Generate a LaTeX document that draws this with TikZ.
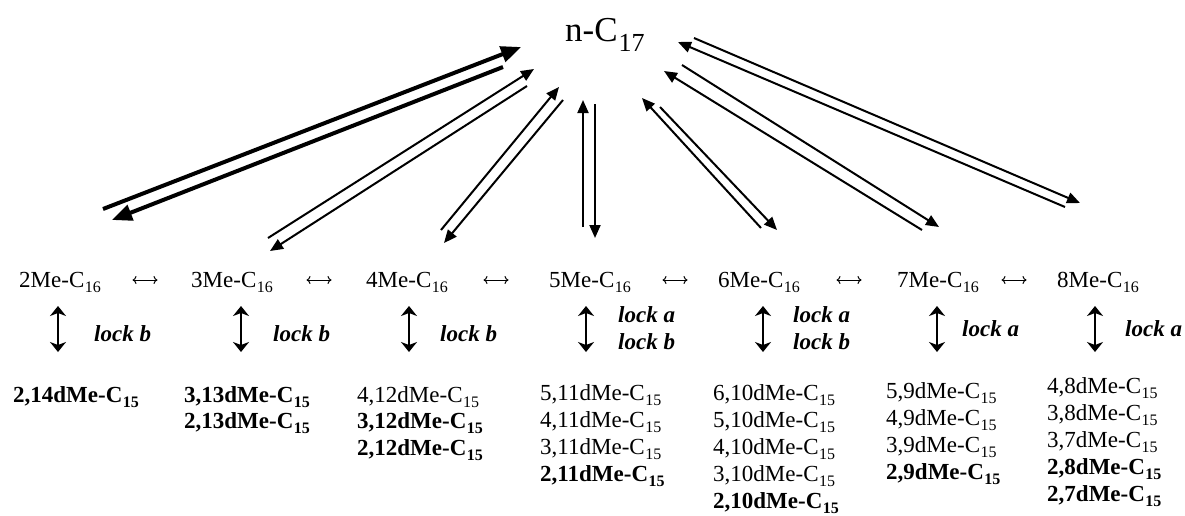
\documentclass[tikz,border=0pt]{standalone}
\usepackage{fontspec}
\setmainfont{Liberation Serif}
\usetikzlibrary{arrows.meta}
\newcommand{\mysub}[1]{\kern0.5pt\raisebox{-5pt}{\fontsize{16}{16}\selectfont #1}}
\tikzset{
  txt/.style={anchor=base west, inner sep=0pt, font=\fontsize{23}{27}\selectfont},
  lst/.style={txt},
  bl/.style={txt, font=\fontsize{23}{27}\selectfont\bfseries},
  lk/.style={txt, font=\fontsize{23}{27}\selectfont\bfseries\itshape},
  eqarrow/.style={line width=1pt, {To[length=4pt,width=8pt]}-{To[length=4pt,width=8pt]}},
  lockarrow/.style={line width=2.8pt, {Stealth[length=10pt,width=16pt,inset=3pt]}-{Stealth[length=10pt,width=16pt,inset=3pt]}},
  thin arr/.style={line width=2pt, -{Triangle[length=13pt,width=11pt]}},
  thick arr/.style={line width=4pt, -{Triangle[length=20pt,width=16pt]}}
}
\begin{document}
\begin{tikzpicture}[x=1pt,y=-1pt]
\useasboundingbox[fill=white] (0,0) rectangle (1185,515);
% top node
\node[anchor=base west, inner sep=0pt, font=\fontsize{35}{35}\selectfont] (top) at (565,41) {n-C\kern1pt\raisebox{-10pt}{\fontsize{26}{26}\selectfont 17}};
% row of Me-C16
\node[txt] (m2) at (19,287) {2Me-C\mysub{16}};
\node[txt] (m3) at (191,287) {3Me-C\mysub{16}};
\node[txt] (m4) at (366,287) {4Me-C\mysub{16}};
\node[txt] (m5) at (549,287) {5Me-C\mysub{16}};
\node[txt] (m6) at (718,287) {6Me-C\mysub{16}};
\node[txt] (m7) at (897,287) {7Me-C\mysub{16}};
\node[txt] (m8) at (1057,287) {8Me-C\mysub{16}};
% equilibrium arrows between neighbours
\foreach \n/\x in {23/145,34/319,45/496,56/675,67/849,78/1014}{
  \coordinate (el\n) at (\x-12.5,280);
  \coordinate (er\n) at (\x+12.5,280);
  \draw[eqarrow] (el\n) -- (er\n);
}
% top arrows
\coordinate (a1s) at (103,209); \coordinate (a1t) at (521,47);
\coordinate (b1s) at (503,67);  \coordinate (b1t) at (112,220);
\coordinate (a2s) at (268,238); \coordinate (a2t) at (534,69);
\coordinate (b2s) at (527,86);  \coordinate (b2t) at (270,251);
\coordinate (a3s) at (441,230); \coordinate (a3t) at (559,87);
\coordinate (b3s) at (563,100); \coordinate (b3t) at (444,243);
\coordinate (a4s) at (583,227); \coordinate (a4t) at (583,100);
\coordinate (b4s) at (595,104); \coordinate (b4t) at (595,238);
\coordinate (a5s) at (761,228); \coordinate (a5t) at (642,98);
\coordinate (b5s) at (660,107); \coordinate (b5t) at (777,230);
\coordinate (a6s) at (922,230); \coordinate (a6t) at (664,71);
\coordinate (b6s) at (682,65);  \coordinate (b6t) at (939,227);
\coordinate (a7s) at (1065,207); \coordinate (a7t) at (678,42);
\coordinate (b7s) at (694,38);  \coordinate (b7t) at (1080,203);
\draw[thick arr] (a1s) -- (a1t);
\draw[thick arr] (b1s) -- (b1t);
\foreach \i in {2,...,7}{
  \draw[thin arr] (a\i s) -- (a\i t);
  \draw[thin arr] (b\i s) -- (b\i t);
}
% lock arrows
\foreach \n/\x in {1/58,2/241,3/409,4/586,5/763,6/937,7/1095}{
  \coordinate (u\n) at (\x,306);
  \coordinate (d\n) at (\x,352);
  \draw[lockarrow] (u\n) -- (d\n);
}
\node[lk] (k1) at (94,341) {lock b};
\node[lk] (k2) at (273,341) {lock b};
\node[lk] (k3) at (440,341) {lock b};
\node[lk] (k4a) at (618,322) {lock a};
\node[lk] (k4b) at (618,349) {lock b};
\node[lk] (k5a) at (793,322) {lock a};
\node[lk] (k5b) at (793,349) {lock b};
\node[lk] (k6) at (962,336) {lock a};
\node[lk] (k7) at (1125,336) {lock a};
% lists
\node[bl] (c1a) at (13,402) {2,14dMe-C\mysub{15}};
\node[bl] (c2a) at (184,402) {3,13dMe-C\mysub{15}};
\node[bl] (c2b) at (184,428) {2,13dMe-C\mysub{15}};
\node[lst] (c3a) at (357,402) {4,12dMe-C\mysub{15}};
\node[bl] (c3b) at (357,428) {3,12dMe-C\mysub{15}};
\node[bl] (c3c) at (357,455) {2,12dMe-C\mysub{15}};
\node[lst] (c4a) at (540,400) {5,11dMe-C\mysub{15}};
\node[lst] (c4b) at (540,427) {4,11dMe-C\mysub{15}};
\node[lst] (c4c) at (540,454) {3,11dMe-C\mysub{15}};
\node[bl] (c4d) at (540,481) {2,11dMe-C\mysub{15}};
\node[lst] (c5a) at (713,400) {6,10dMe-C\mysub{15}};
\node[lst] (c5b) at (713,427) {5,10dMe-C\mysub{15}};
\node[lst] (c5c) at (713,454) {4,10dMe-C\mysub{15}};
\node[lst] (c5d) at (713,481) {3,10dMe-C\mysub{15}};
\node[bl] (c5e) at (713,508) {2,10dMe-C\mysub{15}};
\node[lst] (c6a) at (886,398) {5,9dMe-C\mysub{15}};
\node[lst] (c6b) at (886,425) {4,9dMe-C\mysub{15}};
\node[lst] (c6c) at (886,452) {3,9dMe-C\mysub{15}};
\node[bl] (c6d) at (886,479) {2,9dMe-C\mysub{15}};
\node[lst] (c7a) at (1047,393) {4,8dMe-C\mysub{15}};
\node[lst] (c7b) at (1047,420) {3,8dMe-C\mysub{15}};
\node[lst] (c7c) at (1047,447) {3,7dMe-C\mysub{15}};
\node[bl] (c7d) at (1047,474) {2,8dMe-C\mysub{15}};
\node[bl] (c7e) at (1047,501) {2,7dMe-C\mysub{15}};
\end{tikzpicture}
\end{document}
